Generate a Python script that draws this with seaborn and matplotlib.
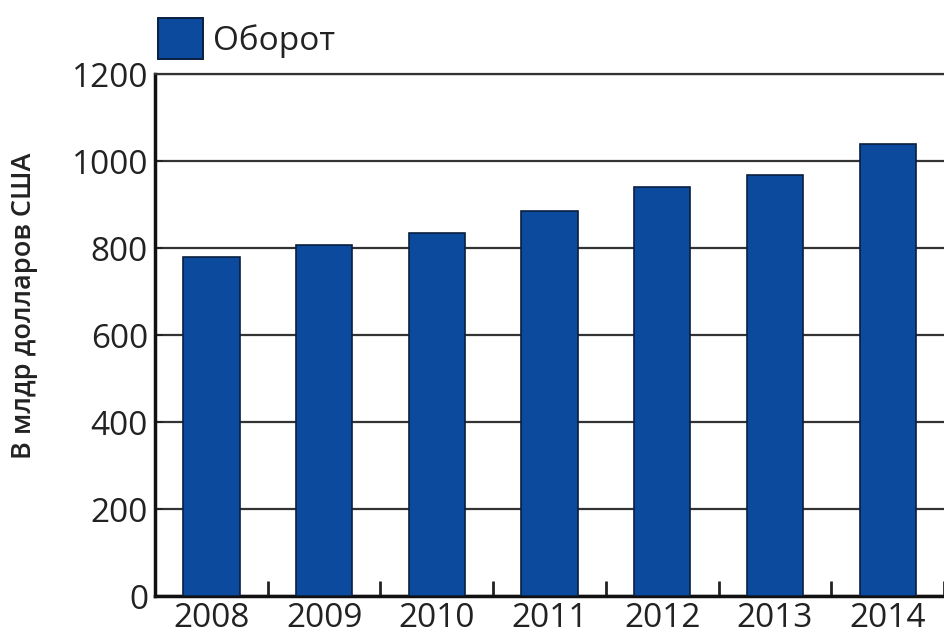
import matplotlib
matplotlib.use("Agg")
import matplotlib.pyplot as plt
import seaborn as sns
import pandas as pd
from matplotlib.patches import Patch

years = ["2008", "2009", "2010", "2011", "2012", "2013", "2014"]
turnover = [780, 808, 835, 886, 941, 968, 1039]
yticks = [0, 200, 400, 600, 800, 1000, 1200]

df = pd.DataFrame({"year": years, "turnover": turnover})

sns.set_theme(style="white")
plt.rcParams["font.family"] = ["Open Sans", "DejaVu Sans"]

bar_color = "#0b4a9c"

fig = plt.figure(figsize=(9.45, 6.33), dpi=100)
ax = fig.add_axes([0.164, 0.058, 0.835, 0.825])

sns.barplot(data=df, x="year", y="turnover", color=bar_color, width=0.5,
            edgecolor="#0a1f40", linewidth=1.2, saturation=1, ax=ax, zorder=3)

ax.set_ylim(0, 1200)
ax.set_xlim(-0.5, 6.5)
ax.set_yticks(yticks)
ax.set_yticklabels([str(v) for v in yticks], fontsize=24, color="#222222")
ax.set_xticks(range(len(years)))
ax.set_xticklabels(years, fontsize=24, color="#222222")
ax.tick_params(axis="x", which="major", bottom=True, length=0, pad=4)
ax.tick_params(axis="y", left=True, direction="in", length=6, width=1.3,
               color="#222222", pad=5)

# tick marks between categories on the bottom axis
ax.set_xticks([i + 0.5 for i in range(len(years))], minor=True)
ax.tick_params(axis="x", which="minor", bottom=True, direction="in", length=11,
               width=2.0, color="#222222")

ax.yaxis.grid(True, color="#333333", linewidth=1.6, zorder=0)
ax.set_axisbelow(True)

for s in ["left", "bottom"]:
    ax.spines[s].set_color("#111111")
    ax.spines[s].set_linewidth(2.5)
ax.spines["top"].set_color("#333333")
ax.spines["top"].set_linewidth(1.6)
ax.spines["right"].set_visible(False)

ax.set_xlabel("")
ax.set_ylabel("В млдр долларов США", fontsize=19.5, color="#222222",
              fontweight="semibold")
ax.yaxis.set_label_coords(-0.148, 0.557)

handle = Patch(facecolor=bar_color, edgecolor="#0a1f40", linewidth=1.4)
fig.legend([handle], ["Оборот"], loc="upper left", bbox_to_anchor=(0.148, 1.0),
           frameon=False, fontsize=24, handlelength=1.35, handleheight=1.5,
           handletextpad=0.3, borderaxespad=0.15, labelcolor="#222222")

fig.savefig("out.png", dpi=100)
